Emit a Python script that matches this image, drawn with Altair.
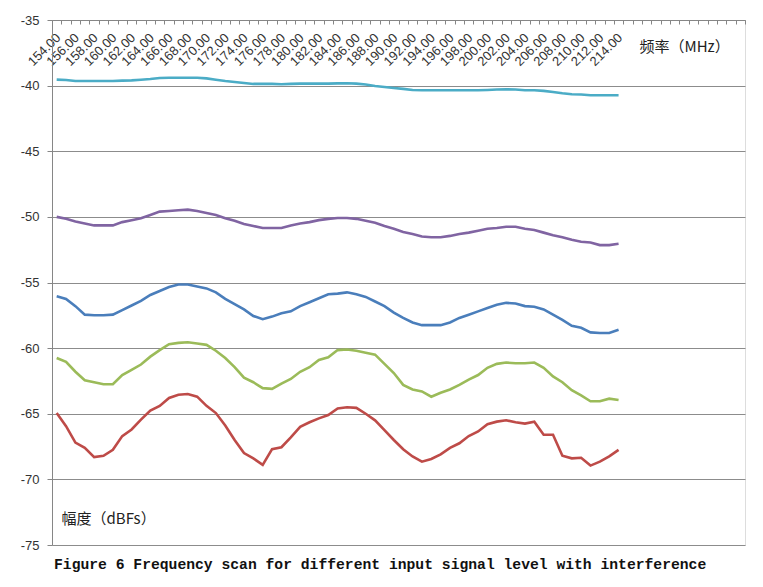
import altair as alt
import pandas as pd

freq = list(range(154, 215))

cyan = [-39.54, -39.57, -39.65, -39.65, -39.65, -39.65, -39.65, -39.62, -39.60, -39.55,
        -39.50, -39.42, -39.40, -39.40, -39.40, -39.40, -39.45, -39.55, -39.65, -39.72,
        -39.80, -39.87, -39.87, -39.87, -39.90, -39.87, -39.85, -39.85, -39.85, -39.85,
        -39.83, -39.82, -39.85, -39.92, -40.03, -40.10, -40.18, -40.25, -40.33, -40.35,
        -40.35, -40.35, -40.35, -40.35, -40.35, -40.35, -40.33, -40.30, -40.28, -40.30,
        -40.35, -40.35, -40.40, -40.48, -40.58, -40.66, -40.68, -40.73, -40.73, -40.73,
        -40.73]
purple = [-50.0, -50.15, -50.35, -50.5, -50.65, -50.65, -50.65, -50.4, -50.25, -50.1,
          -49.85, -49.6, -49.55, -49.5, -49.45, -49.55, -49.7, -49.85, -50.1, -50.3,
          -50.55, -50.7, -50.85, -50.85, -50.85, -50.65, -50.5, -50.4, -50.25, -50.15,
          -50.08, -50.08, -50.15, -50.3, -50.45, -50.7, -50.9, -51.15, -51.3, -51.5,
          -51.55, -51.55, -51.45, -51.3, -51.2, -51.05, -50.9, -50.85, -50.75, -50.75,
          -50.9, -51.0, -51.2, -51.4, -51.55, -51.75, -51.9, -51.95, -52.15, -52.15,
          -52.05]
blue = [-56.05, -56.25, -56.8, -57.45, -57.5, -57.5, -57.45, -57.1, -56.75, -56.4,
        -55.95, -55.65, -55.35, -55.15, -55.15, -55.3, -55.45, -55.75, -56.25, -56.65,
        -57.05, -57.55, -57.8, -57.6, -57.35, -57.2, -56.8, -56.5, -56.2, -55.9,
        -55.85, -55.75, -55.9, -56.1, -56.45, -56.8, -57.3, -57.7, -58.05, -58.25,
        -58.25, -58.25, -58.05, -57.7, -57.45, -57.2, -56.95, -56.7, -56.55, -56.6,
        -56.8, -56.85, -57.05, -57.45, -57.85, -58.3, -58.45, -58.8, -58.85, -58.85,
        -58.6]
green = [-60.75, -61.05, -61.8, -62.45, -62.6, -62.75, -62.75, -62.05, -61.65, -61.25,
         -60.65, -60.15, -59.7, -59.6, -59.55, -59.65, -59.75, -60.2, -60.75, -61.45,
         -62.25, -62.6, -63.05, -63.1, -62.7, -62.35, -61.8, -61.45, -60.9, -60.7,
         -60.15, -60.1, -60.2, -60.35, -60.5, -61.2, -61.9, -62.8, -63.15, -63.3,
         -63.7, -63.4, -63.15, -62.8, -62.4, -62.05, -61.5, -61.2, -61.1, -61.15,
         -61.15, -61.1, -61.5, -62.15, -62.6, -63.2, -63.6, -64.05, -64.05, -63.85,
         -63.95]
red = [-64.95, -65.95, -67.2, -67.6, -68.3, -68.2, -67.75, -66.7, -66.2, -65.45,
       -64.75, -64.4, -63.8, -63.55, -63.5, -63.7, -64.4, -64.95, -65.9, -67.0,
       -68.0, -68.4, -68.9, -67.7, -67.55, -66.8, -66.0, -65.65, -65.35, -65.1,
       -64.6, -64.5, -64.55, -65.0, -65.5, -66.25, -67.0, -67.7, -68.25, -68.65,
       -68.45, -68.1, -67.6, -67.25, -66.7, -66.35, -65.8, -65.6, -65.5, -65.65,
       -65.75, -65.6, -66.6, -66.6, -68.2, -68.4, -68.35, -68.95, -68.65, -68.25,
       -67.75]

series_names = ["s1", "s2", "s3", "s4", "s5"]
series_values = [cyan, purple, blue, green, red]
series_colors = ["#4BACC6", "#8064A2", "#4A7EBB", "#9BBB59", "#BE4B48"]

y_ticks = [-75, -70, -65, -60, -55, -50, -45, -40, -35]
tick_vals = [153.5 + k for k in range(75)]
label_vals = list(range(154, 215, 2))
axis_vals = sorted(tick_vals + label_vals)

rows = []
for name, vals in zip(series_names, series_values):
    for f, v in zip(freq, vals):
        rows.append({"freq": f, "value": v, "series": name})
df = pd.DataFrame(rows)

W, H = 693, 525

chart = alt.Chart(df).mark_line(strokeWidth=2.6).encode(
    x=alt.X(
        "freq:Q",
        scale=alt.Scale(domain=[153.5, 227.5], nice=False, zero=False),
        axis=alt.Axis(
            orient="bottom", offset=-H, values=axis_vals,
            labelExpr="datum.value % 1 == 0 ? format(datum.value, '.2f') : ''",
            labelAngle=-45, labelFont="Liberation Sans", labelFontSize=13,
            labelColor="#333333", labelOverlap=False, labelPadding=7,
            labelOffset=-3, labelBound=False,
            tickSize=4, tickColor="#868686",
            tickOpacity={"condition": {"test": "datum.value % 1 == 0", "value": 0}, "value": 1},
            domainColor="#868686", grid=False,
            title="频率（MHz）", titleX=587, titleY=26, titleAngle=0,
            titleAlign="left", titleBaseline="middle",
            titleFont="Noto Sans CJK SC", titleFontSize=15, titleFontWeight="normal",
            titleColor="#222222",
        ),
    ),
    y=alt.Y(
        "value:Q",
        scale=alt.Scale(domain=[-75, -35], nice=False, zero=False),
        axis=alt.Axis(
            values=y_ticks, labelExpr="'' + datum.value",
            grid=True, gridColor="#8C8C8C", gridWidth=1,
            domainColor="#868686", tickColor="#868686", tickSize=5,
            labelPadding=8, labelFont="Liberation Sans", labelFontSize=13,
            labelColor="#333333",
            title="幅度（dBFs）", titleX=9, titleY=498, titleAngle=0,
            titleAlign="left", titleBaseline="middle",
            titleFont="Noto Sans CJK SC", titleFontSize=15, titleFontWeight="normal",
            titleColor="#222222",
        ),
    ),
    color=alt.Color("series:N", scale=alt.Scale(domain=series_names, range=series_colors), legend=None),
).properties(
    width=W, height=H,
    title=alt.TitleParams(
        text="Figure 6 Frequency scan for different input signal level with interference",
        orient="bottom", anchor="start", frame="group", offset=5, dx=2,
        font="Liberation Mono", fontSize=14.7, fontWeight="bold", color="#111111",
    ),
    autosize=alt.AutoSizeParams(type="none"),
    padding={"left": 44, "top": 12, "right": 8, "bottom": 32},
).configure_view(stroke=None).configure(background="white")

chart.save("out.html", embed_options={"renderer": "svg", "actions": False})
